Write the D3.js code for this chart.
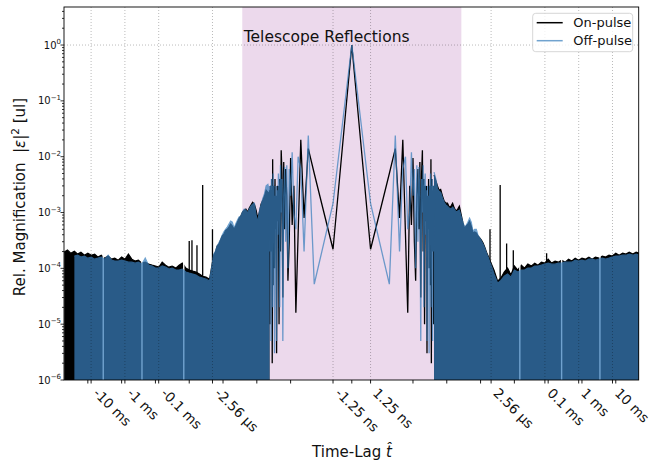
<!DOCTYPE html>
<html>
<head>
<meta charset="utf-8">
<script src="https://cdn.jsdelivr.net/npm/d3@7"></script>
<style>
  html, body { margin: 0; padding: 0; background: #fff; }
  svg { display: block; font-family: "DejaVu Sans", sans-serif; }
</style>
</head>
<body>
<div id="container"></div>
<script>
// lags are in samples, 1 sample = 1.25 ns

// resolved lags around zero (same on both sides)
const centerLags = [0, 1, 2, 3, 4, 5, 6, 7, 8, 9, 10, 11, 12, 13, 14, 15, 16, 17, 18, 19, 20, 21, 22,
    23, 24, 25, 26, 27, 28, 29, 30, 31, 32, 33, 34, 35, 36, 37, 38, 39, 40, 41, 42, 43, 44];
const onCenter = [1.0, 2.2e-4, 5e-3, 1.4e-2, 8e-4, 2e-2, 4e-4, 1.6e-5, 3e-3, 6e-4, 9.5e-3, 3e-4, 6e-5,
    2e-3, 6e-3, 5e-4, 8e-3, 3e-5, 5e-3, 1.3e-2, 2e-4, 4e-3, 1e-5, 3e-3, 7e-4, 3e-3, 3e-6, 2e-3, 5e-4,
    4e-3, 1e-4, 2e-3, 3e-3, 5e-5, 9e-3, 2e-6, 4e-3, 2e-4, 2.5e-3, 6e-4, 3e-3, 1e-5, 2.5e-3, 8e-4, 2e-3];
const offCenter = [1.0, 1.45e-3, 5.2e-5, 2.4e-2, 2e-4, 6e-3, 1e-2, 5e-4, 1e-3, 1.2e-2, 2e-3, 6e-3, 1e-4,
    7e-3, 3e-4, 6.5e-3, 2e-3, 5e-6, 4e-3, 1e-3, 7e-3, 2e-5, 3e-3, 5e-3, 4e-4, 2.5e-3, 5e-6, 3e-3, 8e-4,
    2e-3, 3e-6, 3e-3, 1e-3, 5e-3, 2e-5, 3e-3, 1e-3, 4e-3, 5e-6, 3e-3, 1e-3, 3e-3, 2e-4, 2.5e-3, 1e-3];

// dense part: upper envelope of the trace (|lag|)
const denseLags = [42, 47, 53, 59, 66, 75, 84, 94, 105, 118, 133, 149, 167, 188, 211, 236, 265, 298,
    334, 375, 421, 472, 530, 595, 667, 749, 840, 943, 1058, 1187, 1332, 1495, 1677, 1882, 2048,
    2.5e3, 3.2e3, 4e3, 5e3, 6.3e3, 7.9e3,
    1e4, 1.26e4, 1.6e4, 2e4, 2.5e4, 3.2e4, 4e4, 5e4, 6.3e4, 7.9e4,
    1e5, 1.26e5, 1.6e5, 2e5, 2.5e5, 3.2e5, 4e5, 5e5, 6.3e5, 7.9e5,
    1e6, 1.26e6, 1.6e6, 2e6, 2.5e6, 3.2e6, 4e6, 5e6, 6.3e6, 7.9e6,
    1e7, 1.26e7, 1.6e7, 2e7, 2.5e7, 3.2e7, 4e7, 5e7];

const onLeft = [2.2e-3, 2.3e-3, 2.5e-3, 1.97e-3, 1.67e-3, 1.41e-3, 1.02e-3, 7.9e-4, 1.1e-3, 1.41e-3,
    1.53e-3, 1.36e-3, 1.2e-3, 1.02e-3, 1.15e-3, 1.1e-3, 1.02e-3, 8.6e-4, 7.9e-4, 6.7e-4, 5.7e-4, 5e-4,
    5.7e-4, 6.2e-4, 5.5e-4, 5e-4, 4.8e-4, 4.1e-4, 3.8e-4, 3.2e-4, 2.7e-4, 2.5e-4, 1.95e-4, 1.72e-4, 1.29e-4,
    6.4e-5, 6.95e-5, 7.2e-5, 7.9e-5, 8.6e-5, 8.9e-5,
    9.3e-5, 1.01e-4, 1.24e-4, 1.14e-4, 1.01e-4, 1.1e-4, 1.05e-4, 1.14e-4, 1.29e-4, 1.05e-4,
    1.1e-4, 1.14e-4, 1.19e-4, 1.29e-4, 1.24e-4, 1.4e-4, 1.35e-4, 1.46e-4, 1.8e-4, 1.46e-4,
    1.59e-4, 1.4e-4, 1.52e-4, 1.46e-4, 1.66e-4, 1.52e-4, 1.72e-4, 1.59e-4, 1.8e-4, 1.72e-4,
    1.87e-4, 1.72e-4, 1.95e-4, 1.8e-4, 2.03e-4, 1.87e-4, 2.12e-4, 1.95e-4];
const offLeft = [2.3e-3, 3.2e-3, 3e-3, 2.2e-3, 1.81e-3, 1.36e-3, 1.06e-3, 6.7e-4, 9e-4, 1.47e-3,
    1.41e-3, 1.3e-3, 1.15e-3, 9.8e-4, 1.1e-3, 1.15e-3, 1.02e-3, 8.6e-4, 8.3e-4, 7.3e-4, 6.2e-4, 5.25e-4,
    6.7e-4, 7e-4, 6.2e-4, 5.5e-4, 5e-4, 4.5e-4, 3.9e-4, 3.3e-4, 2.83e-4, 2.5e-4, 2.03e-4, 1.8e-4, 1.29e-4,
    5.9e-5, 6.4e-5, 6.7e-5, 6.95e-5, 7.6e-5, 7.9e-5,
    8.2e-5, 8.6e-5, 9.7e-5, 9.3e-5, 9.3e-5, 1.01e-4, 9.7e-5, 1.05e-4, 1.1e-4, 1.01e-4,
    1.01e-4, 1.1e-4, 1.14e-4, 1.52e-4, 1.19e-4, 1.29e-4, 1.24e-4, 1.29e-4, 1.29e-4, 1.35e-4,
    1.4e-4, 1.35e-4, 1.35e-4, 1.4e-4, 1.72e-4, 1.46e-4, 1.59e-4, 1.52e-4, 1.46e-4, 1.59e-4,
    1.52e-4, 1.66e-4, 1.59e-4, 1.72e-4, 1.66e-4, null, null, null];
const onRight = [4.7e-3, 3.8e-3, 3e-3, 2.5e-3, 2.6e-3, 1.97e-3, 1.6e-3, 1.47e-3, 1.47e-3, 1.25e-3,
    1.3e-3, 1.47e-3, 1.2e-3, 1.06e-3, 1.15e-3, 1.3e-3, 9.4e-4, 6.7e-4, 5.25e-4, 5.7e-4, 6.2e-4, 7e-4,
    5.7e-4, 4.3e-4, 4.5e-4, 4.3e-4, 3.8e-4, 3.5e-4, 3.2e-4, 2.83e-4, 2.4e-4, 1.95e-4, 1.66e-4, 1.4e-4, 1.24e-4,
    9.3e-5, 5.9e-5, 6.7e-5, 8.6e-5, 1.01e-4, 7.6e-5,
    1.1e-4, 9.3e-5, 1.14e-4, 1.01e-4, 1.19e-4, 1.1e-4, 1.24e-4, 1.14e-4, 1.29e-4, 1.24e-4,
    1.46e-4, 1.24e-4, 1.35e-4, 1.29e-4, 1.4e-4, 1.29e-4, 1.46e-4, 1.35e-4, 1.52e-4, 1.4e-4,
    1.52e-4, 1.46e-4, 1.59e-4, 1.46e-4, 1.59e-4, 1.52e-4, 1.66e-4, 1.59e-4, 1.72e-4, 1.66e-4,
    1.87e-4, 1.72e-4, 1.87e-4, 1.8e-4, 1.95e-4, 1.8e-4, 1.95e-4, 1.87e-4];
const offRight = [5.3e-3, 4.1e-3, 2.7e-3, 2.4e-3, 2.3e-3, 1.81e-3, 1.53e-3, 1.36e-3, 1.3e-3, 1.2e-3,
    1.15e-3, 1.25e-3, 1.15e-3, 1.02e-3, 1.06e-3, 1.1e-3, 8.6e-4, 6.7e-4, 5.5e-4, 5.9e-4, 6.7e-4, 7.9e-4,
    6.7e-4, 4.6e-4, 5e-4, 5e-4, 3.9e-4, 3.5e-4, 3.07e-4, 2.7e-4, 2.3e-4, 1.87e-4, 1.59e-4, 1.29e-4, 1.14e-4,
    7.9e-5, 5.4e-5, 6.1e-5, 7.2e-5, 7.9e-5, 6.95e-5,
    9.3e-5, 8.6e-5, 9.3e-5, 9.3e-5, 1.01e-4, 1.01e-4, 1.1e-4, 1.1e-4, 1.14e-4, 1.19e-4,
    1.24e-4, 1.19e-4, 1.19e-4, 1.24e-4, 1.24e-4, 1.29e-4, 1.29e-4, 1.29e-4, 1.4e-4, 1.35e-4,
    1.4e-4, 1.35e-4, 1.46e-4, 1.46e-4, 1.4e-4, 1.46e-4, 1.52e-4, 1.46e-4, 1.52e-4, 1.59e-4,
    1.66e-4, 1.66e-4, 1.72e-4, 1.72e-4, 1.8e-4, 1.72e-4, 1.8e-4, 1.72e-4];

// isolated on-pulse spikes
const spikeLags = [-1.0e4, -8.3e3, -5.9e3, -4.0e3, -2.05e3, 1.9e3, 3.8e3, 5.9e3, 9.3e3, 9e4];
const spikeOn = [3.1e-4, 3.2e-4, 2.6e-4, 3.1e-3, 5e-4, 5e-4, 3.1e-3, 2.8e-4, 2.1e-4, 1.87e-4];
// lags where only the off-pulse trace shows
const gapLags = [-3.5e6, -2.5e5, -1.45e4, 1.45e4, 2.5e5, 3.4e6];

const bandLag = 270;
const tickLags = [-8e6, -8e5, -8e4, -2048, -1, 1, 2048, 8e4, 8e5, 8e6];
const tickLabels = ["-10 ms", "-1 ms", "-0.1 ms", "-2.56 µs", "-1.25 ns", "1.25 ns", "2.56 µs", "0.1 ms", "1 ms", "10 ms"];
const minorTickLags = [-1e7, -1e6, -1e5, -1e4, -1e3, -1e2, -10, 0, 10, 1e2, 1e3, 1e4, 1e5, 1e6, 1e7];
const yExps = [-6, -5, -4, -3, -2, -1, 0];

const width = 661;
const height = 461;
const marginTop = 7;
const marginRight = 22.3;
const marginBottom = 81;
const marginLeft = 64;
const xMin = -5.07e7, xMax = 4.77e7;

// matplotlib-like symlog (linthresh 2, linscale 1) made of a linear and a log scale
const linThresh = 2;
const linScale = 1 / (1 - 1 / 10);
const linPart = d3.scaleLinear().domain([0, linThresh]).range([0, linScale]);
const logPart = d3.scaleLog().domain([linThresh, linThresh * 10]).range([linScale, linScale + 1]);
const symlog = v => Math.sign(v) * (Math.abs(v) <= linThresh ? linPart(Math.abs(v)) : logPart(Math.abs(v)));
const xPx = d3.scaleLinear().domain([symlog(xMin), symlog(xMax)]).range([marginLeft, width - marginRight]);
const x = v => xPx(symlog(v));

const y = d3.scaleLog().domain([1e-6, 4.8]).range([height - marginBottom, marginTop]);
const yBot = height - marginBottom;

const svg = d3.create("svg").attr("width", width).attr("height", height);

svg.append("clipPath").attr("id", "plot")
    .append("rect")
    .attr("x", marginLeft).attr("y", marginTop)
    .attr("width", width - marginLeft - marginRight).attr("height", yBot - marginTop);

// telescope reflection band
svg.append("rect")
    .attr("x", x(-bandLag)).attr("y", marginTop)
    .attr("width", x(bandLag) - x(-bandLag)).attr("height", yBot - marginTop)
    .attr("fill", "#800080").attr("fill-opacity", 0.15);

const plot = svg.append("g").attr("clip-path", "url(#plot)");

const centerPts = vals => centerLags.slice().reverse().map(l => [-l, vals[l]])
    .concat(centerLags.slice(1).map(l => [l, vals[l]]));
const densePts = (vals, sign) => denseLags.map((l, i) => [sign * l, vals[i]]);

const line = d3.line().x(d => x(d[0])).y(d => y(d[1]));
const area = d3.area().defined(d => d[1] != null).x(d => x(d[0])).y0(yBot).y1(d => y(d[1]));
const topLine = d3.line().defined(d => d[1] != null).x(d => x(d[0])).y(d => y(d[1]));

function drawSeries(g, color, center, left, right) {
    [densePts(left, -1), densePts(right, 1)].forEach(pts => {
        g.append("path").attr("d", area(pts)).attr("fill", color);
        g.append("path").attr("d", topLine(pts)).attr("fill", "none")
            .attr("stroke", color).attr("stroke-width", 1.2);
    });
    g.append("path").attr("d", line(centerPts(center)))
        .attr("fill", "none").attr("stroke", color)
        .attr("stroke-width", 1.3).attr("stroke-linejoin", "miter");
}

// on-pulse
const onG = plot.append("g");
drawSeries(onG, "#000", onCenter, onLeft, onRight);
onG.selectAll("line.spike")
    .data(spikeLags)
    .enter()
    .append("line")
    .attr("x1", d => x(d)).attr("x2", d => x(d))
    .attr("y1", yBot).attr("y2", (d, i) => y(spikeOn[i]))
    .attr("stroke", "#000").attr("stroke-width", 1.3);

// gaps in the on-pulse trace
plot.selectAll("line.gap")
    .data(gapLags)
    .enter()
    .append("line")
    .attr("x1", d => x(d)).attr("x2", d => x(d))
    .attr("y1", yBot).attr("y2", marginTop)
    .attr("stroke", "#fff").attr("stroke-width", 1.4);

// off-pulse
const offColor = "#3a7fbd";
const offG = plot.append("g").attr("opacity", 0.72);
drawSeries(offG, offColor, offCenter, offLeft, offRight);

// grid
const grid = svg.append("g").attr("stroke", "#000").attr("stroke-opacity", 0.3)
    .attr("stroke-width", 0.9).attr("stroke-dasharray", "1,2");
grid.selectAll("line")
    .data(tickLags)
    .enter()
    .append("line")
    .attr("x1", d => x(d)).attr("x2", d => x(d))
    .attr("y1", marginTop).attr("y2", yBot);
grid.append("line")
    .attr("x1", marginLeft).attr("x2", width - marginRight)
    .attr("y1", y(1)).attr("y2", y(1));

// frame
svg.append("rect")
    .attr("x", marginLeft).attr("y", marginTop)
    .attr("width", width - marginLeft - marginRight).attr("height", yBot - marginTop)
    .attr("fill", "none").attr("stroke", "#000").attr("stroke-width", 0.9);

// x ticks
const xAxis = svg.append("g").attr("stroke", "#000").attr("stroke-width", 0.9);
xAxis.selectAll("line")
    .data(tickLags.concat(minorTickLags))
    .enter()
    .append("line")
    .attr("x1", d => x(d)).attr("x2", d => x(d))
    .attr("y1", yBot).attr("y2", yBot + 3.5);

svg.append("g")
    .selectAll("text")
    .data(tickLags)
    .enter()
    .append("text")
    .attr("transform", d => `translate(${x(d) + 1.5},${yBot + 14}) rotate(45)`)
    .attr("font-size", "13.5px")
    .attr("fill", "#111")
    .text((d, i) => tickLabels[i]);

// y ticks
const yMinor = [];
yExps.forEach(e => {
    for (let m = 2; m <= 9; m++) yMinor.push(m * Math.pow(10, e));
});
const yAxis = svg.append("g").attr("stroke", "#000").attr("stroke-width", 0.8);
yAxis.selectAll("line.major")
    .data(yExps)
    .enter()
    .append("line")
    .attr("x1", marginLeft - 3.5).attr("x2", marginLeft)
    .attr("y1", d => y(Math.pow(10, d))).attr("y2", d => y(Math.pow(10, d)));
yAxis.selectAll("line.minor")
    .data(yMinor.filter(v => v <= 4.8))
    .enter()
    .append("line")
    .attr("x1", marginLeft - 2).attr("x2", marginLeft)
    .attr("y1", d => y(d)).attr("y2", d => y(d));

const yLab = svg.append("g")
    .selectAll("text")
    .data(yExps)
    .enter()
    .append("text")
    .attr("x", marginLeft - 3)
    .attr("y", d => y(Math.pow(10, d)) + 3.5)
    .attr("text-anchor", "end")
    .attr("font-size", "10px")
    .attr("fill", "#111");
yLab.append("tspan").text("10");
yLab.append("tspan").attr("dy", -4.5).attr("font-size", "7px")
    .text(d => String(d).replace("-", "\u2212"));

// axis labels
const ylabel = svg.append("text")
    .attr("transform", `translate(25,197) rotate(-90)`)
    .attr("text-anchor", "middle")
    .attr("font-size", "15px")
    .style("white-space", "pre")
    .attr("fill", "#111");
ylabel.append("tspan").text("Rel. Magnification  |");
ylabel.append("tspan").attr("font-style", "italic").text("\u03b5");
ylabel.append("tspan").text("|");
ylabel.append("tspan").attr("dy", -6).attr("font-size", "10.5px").text("2");
ylabel.append("tspan").attr("dy", 6).text(" [ul]");

const xlabel = svg.append("text")
    .attr("x", 352).attr("y", 457)
    .attr("text-anchor", "middle")
    .attr("font-size", "15px")
    .style("white-space", "pre")
    .attr("fill", "#111");
xlabel.append("tspan").text("Time-Lag ");
xlabel.append("tspan").attr("font-style", "italic").text("t\u0302");

// band title
svg.append("text")
    .attr("x", x(-bandLag) + 1.5).attr("y", 41.7)
    .attr("font-size", "15.5px")
    .attr("fill", "#111")
    .text("Telescope Reflections");

// legend
const leg = svg.append("g");
leg.append("rect")
    .attr("x", 532.7).attr("y", 13.3).attr("width", 100).attr("height", 38.4)
    .attr("rx", 3).attr("fill", "#fff").attr("fill-opacity", 0.8)
    .attr("stroke", "#ccc").attr("stroke-width", 0.8);
const legItems = [["On-pulse", "#000", 1], ["Off-pulse", offColor, 0.72]];
legItems.forEach((d, i) => {
    const ly = 22.7 + i * 18;
    leg.append("line")
        .attr("x1", 536.7).attr("x2", 562.7).attr("y1", ly).attr("y2", ly)
        .attr("stroke", d[1]).attr("stroke-opacity", d[2]).attr("stroke-width", 1.5);
    leg.append("text")
        .attr("x", 573.3).attr("y", ly + 4.7)
        .attr("font-size", "13px").attr("fill", "#111")
        .text(d[0]);
});

d3.select("#container").append(() => svg.node());
</script>
</body>
</html>
